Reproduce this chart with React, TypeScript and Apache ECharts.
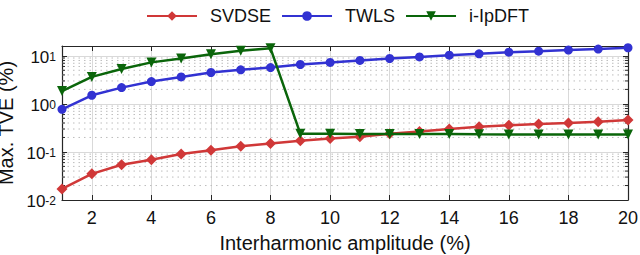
import React, { useEffect, useRef } from "react";
import * as echarts from "echarts";

const xValues = [1, 2, 3, 4, 5, 6, 7, 8, 9, 10, 11, 12, 13, 14, 15, 16, 17, 18, 19, 20];
const svdse = [0.017, 0.035, 0.054, 0.069, 0.091, 0.108, 0.131, 0.149, 0.17, 0.19, 0.206, 0.24, 0.265, 0.3, 0.335, 0.36, 0.38, 0.4, 0.424, 0.462];
const twls = [0.77, 1.51, 2.18, 2.91, 3.64, 4.5, 5.1, 5.7, 6.6, 7.3, 8.0, 8.8, 9.5, 10.3, 11.0, 11.9, 12.5, 13.2, 13.8, 14.7];
const ipdft = [1.85, 3.64, 5.3, 7.3, 8.8, 10.8, 12.7, 14.3, 0.24, 0.24, 0.235, 0.235, 0.235, 0.235, 0.232, 0.23, 0.23, 0.23, 0.23, 0.23];
const seriesNames = ["SVDSE", "TWLS", "i-IpDFT"];
const xTickLabels = [2, 4, 6, 8, 10, 12, 14, 16, 18, 20];
const X_MIN = 1;
const X_MAX = 20;
const Y_MIN = 0.01;
const Y_MAX = 16;

const minorY: number[] = [];
for (let e = -2; e <= 1; e++) {
  for (let k = 2; k <= 9; k++) {
    const v = k * Math.pow(10, e);
    if (v < Y_MAX) minorY.push(v);
  }
}

const FONT = "Liberation Sans, Arial, sans-serif";
const AXIS_COLOR = "#262626";

export default function App() {
  const ref = useRef<HTMLDivElement>(null);
  useEffect(() => {
    if (!ref.current) return;
    const chart = echarts.init(ref.current, undefined, { renderer: "svg" });
    const logFmt = (v: number) => {
      const e = Math.log10(v);
      if (Math.abs(e - Math.round(e)) > 1e-6) return "";
      return `{b|10}{s|${Math.round(e)}}`;
    };
    chart.setOption({
      animation: false,
      textStyle: { fontFamily: FONT },
      legend: {
        top: 2,
        left: 141,
        itemWidth: 50,
        itemHeight: 12,
        itemGap: 10,
        textStyle: { fontSize: 18, color: "#111", fontFamily: FONT, padding: [0, 0, 0, 8] },
        data: seriesNames,
      },
      grid: { left: 62, right: 12, top: 46, bottom: 55, containLabel: false, outerBoundsMode: "none" },
      xAxis: [
        {
          type: "value",
          min: X_MIN,
          max: X_MAX,
          name: "Interharmonic amplitude (%)",
          nameLocation: "middle",
          nameGap: 31,
          nameTextStyle: { fontSize: 20, lineHeight: 22, color: "#111", fontFamily: FONT },
          axisLine: { show: true, lineStyle: { color: AXIS_COLOR, width: 1.2 } },
          axisTick: { show: true, inside: true, length: 5, customValues: xTickLabels, lineStyle: { color: AXIS_COLOR } },
          axisLabel: { customValues: xTickLabels, fontSize: 18, color: "#111", margin: 9, fontFamily: FONT },
          splitLine: { show: true, lineStyle: { color: "#d9d9d9", width: 1 } },
        },
        {
          type: "value",
          position: "top",
          min: X_MIN,
          max: X_MAX,
          axisLine: { show: true, onZero: false, lineStyle: { color: AXIS_COLOR, width: 1.2 } },
          axisTick: { show: true, inside: true, length: 5, customValues: xTickLabels, lineStyle: { color: AXIS_COLOR } },
          axisLabel: { show: false },
          splitLine: { show: false },
        },
      ],
      yAxis: [
        {
          type: "log",
          logBase: 10,
          min: Y_MIN,
          max: Y_MAX,
          name: "Max. TVE (%)",
          nameLocation: "middle",
          nameGap: 35,
          nameTextStyle: { fontSize: 20, lineHeight: 20, color: "#111", fontFamily: FONT },
          axisLine: { show: true, onZero: false, lineStyle: { color: AXIS_COLOR, width: 1.2 } },
          axisTick: { show: true, inside: true, length: 5, lineStyle: { color: AXIS_COLOR } },
          axisLabel: {
            formatter: logFmt,
            showMaxLabel: false,
            color: "#111",
            margin: 6,
            fontFamily: FONT,
            rich: {
              b: { fontSize: 17, lineHeight: 20, color: "#111", verticalAlign: "bottom", padding: [8, 0, 0, 0], fontFamily: FONT },
              s: { fontSize: 12, lineHeight: 14, color: "#111", verticalAlign: "top", padding: [5, 0, 0, 0], fontFamily: FONT },
            },
          },
          splitLine: { show: true, lineStyle: { color: "#d9d9d9", width: 1 } },
        },
        {
          type: "log",
          logBase: 10,
          min: Y_MIN,
          max: Y_MAX,
          position: "right",
          axisLine: { show: true, onZero: false, lineStyle: { color: AXIS_COLOR, width: 1.2 } },
          axisTick: { show: true, inside: true, length: 5, lineStyle: { color: AXIS_COLOR } },
          axisLabel: { show: false },
          splitLine: { show: false },
        },
      ],
      series: [
        {
          type: "custom",
          silent: true,
          clip: true,
          z: 1,
          xAxisIndex: 0,
          yAxisIndex: 0,
          data: minorY.map((v) => [X_MIN, v]),
          encode: { x: 0, y: 1 },
          renderItem: (params: any, api: any) => {
            const v = api.value(1);
            const p0 = api.coord([X_MIN, v]);
            const p1 = api.coord([X_MAX, v]);
            return {
              type: "group",
              children: [
                {
                  type: "line",
                  shape: { x1: p0[0], y1: p0[1], x2: p1[0], y2: p1[1] },
                  style: { stroke: "#bdbdbd", lineWidth: 1, lineDash: [1.5, 4] },
                },
                {
                  type: "line",
                  shape: { x1: p0[0], y1: p0[1], x2: p0[0] + 3, y2: p0[1] },
                  style: { stroke: AXIS_COLOR, lineWidth: 1 },
                },
                {
                  type: "line",
                  shape: { x1: p1[0] - 3, y1: p1[1], x2: p1[0], y2: p1[1] },
                  style: { stroke: AXIS_COLOR, lineWidth: 1 },
                },
              ],
            };
          },
        },
        {
          name: "SVDSE",
          type: "line",
          z: 3,
          data: xValues.map((x, i) => [x, svdse[i]]),
          color: "#d03838",
          lineStyle: { width: 2.5 },
          symbol: "diamond",
          symbolSize: 11,
        },
        {
          name: "TWLS",
          type: "line",
          z: 3,
          data: xValues.map((x, i) => [x, twls[i]]),
          color: "#3232d2",
          lineStyle: { width: 2.5 },
          symbol: "circle",
          symbolSize: 9,
        },
        {
          name: "i-IpDFT",
          type: "line",
          z: 4,
          data: xValues.map((x, i) => [x, ipdft[i]]),
          color: "#0a650a",
          lineStyle: { width: 2.5 },
          symbol: "triangle",
          symbolRotate: 180,
          symbolSize: 10,
        },
      ],
    });
    return () => chart.dispose();
  }, []);
  return (
    <div
      ref={ref}
      style={{ position: "fixed", left: 0, top: 0, width: 640, height: 255, background: "#fff" }}
    />
  );
}
